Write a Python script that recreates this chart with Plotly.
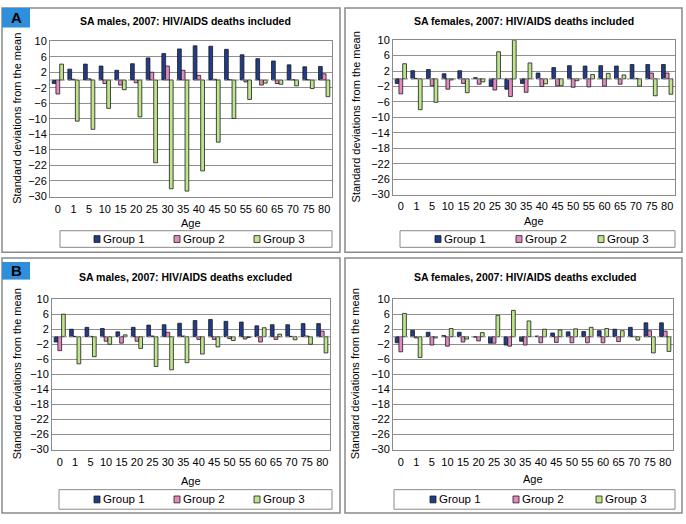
import plotly.graph_objects as go

ages = ["0", "1", "5", "10", "15", "20", "25", "30", "35", "40", "45", "50", "55", "60", "65", "70", "75", "80"]
group_names = ["Group 1", "Group 2", "Group 3"]

# Panel A: HIV/AIDS deaths included
males_incl_g1 = [-0.9, 2.8, 4.1, 3.6, 2.5, 4.2, 5.7, 6.8, 8.0, 8.8, 8.7, 7.9, 6.5, 5.5, 4.9, 3.9, 3.4, 3.5]
males_incl_g2 = [-3.6, 0.2, 0.3, -0.9, -1.3, -0.7, 2.0, 3.6, 2.5, 1.2, 0.2, 0.1, -0.5, -1.3, -0.9, 0.1, 0.1, 1.6]
males_incl_g3 = [4.1, -10.6, -12.7, -7.3, -2.5, -9.5, -21.3, -28.0, -28.6, -23.4, -16.0, -9.9, -5.0, -0.8, -1.1, -1.5, -2.2, -4.3]

females_incl_g1 = [-1.2, 2.1, 2.4, 1.3, 2.1, 0.3, -1.9, -2.7, -1.2, 1.5, 2.9, 3.4, 3.3, 3.4, 3.3, 3.7, 3.7, 3.7]
females_incl_g2 = [-3.9, 0.1, -1.8, -2.7, -1.2, -1.4, -2.9, -4.6, -3.5, -2.0, -1.8, -2.2, -2.1, -1.9, -1.4, 0.1, 1.5, 1.5]
females_incl_g3 = [3.9, -8.0, -6.1, -0.3, -3.6, -0.8, 7.0, 10.0, 4.1, -1.3, -1.8, -0.5, 1.1, 1.4, 1.0, -1.9, -4.4, -4.0]

# Panel B: HIV/AIDS deaths excluded
males_excl_g1 = [-1.4, 2.0, 2.5, 2.2, 1.3, 2.5, 3.1, 3.2, 3.6, 4.3, 4.6, 4.1, 3.9, 2.9, 3.2, 3.2, 3.5, 3.5]
males_excl_g2 = [-3.7, 0.1, 0.1, -1.2, -1.7, -1.2, 0.2, 1.2, 0.2, -0.7, -0.7, -0.5, -0.6, -1.4, -0.7, 0.1, 0.2, 1.5]
males_excl_g3 = [6.0, -7.2, -5.3, -2.0, 0.5, -3.1, -7.9, -8.8, -6.9, -4.6, -2.7, -1.0, -0.2, 2.4, 0.7, -0.8, -2.0, -4.3]

females_excl_g1 = [-1.6, 1.7, 1.2, 0.3, 1.2, -0.1, -1.7, -2.2, -1.2, 0.2, 1.0, 1.3, 1.4, 1.6, 2.0, 2.5, 3.7, 3.7]
females_excl_g2 = [-4.0, -0.3, -2.2, -2.5, -1.4, -1.1, -1.7, -2.5, -2.2, -1.6, -1.5, -1.6, -1.6, -1.6, -1.3, 0.1, 1.6, 1.5]
females_excl_g3 = [6.2, -5.5, -0.3, 2.2, -0.6, 1.1, 5.7, 7.0, 4.2, 2.0, 1.8, 2.1, 2.5, 2.2, 1.6, -0.9, -4.3, -3.9]

titles = [
    "SA males, 2007: HIV/AIDS deaths included",
    "SA females, 2007: HIV/AIDS deaths included",
    "SA males, 2007: HIV/AIDS deaths excluded",
    "SA females, 2007: HIV/AIDS deaths excluded",
]
panel_data = [
    (males_incl_g1, males_incl_g2, males_incl_g3),
    (females_incl_g1, females_incl_g2, females_incl_g3),
    (males_excl_g1, males_excl_g2, males_excl_g3),
    (females_excl_g1, females_excl_g2, females_excl_g3),
]

W, H = 686, 524
FONT = "Liberation Sans, Arial, sans-serif"
colors = ["#203C8A", "#E58AC0", "#BDE58C"]

panels = [
    dict(px=(50, 332), py=(36, 195), frame=(2, 340, 2, 252), title=(185, 15), age_y=222, ticklen=2,
         leg_box=(60, 332, 230, 247), leg_marks=(94, 174, 254), ytitle_x=17),
    dict(px=(393, 675), py=(35, 193), frame=(345, 682, 2, 252), title=(524, 15), age_y=220, ticklen=1,
         leg_box=(400, 675, 230, 247), leg_marks=(435, 516, 598), ytitle_x=356),
    dict(px=(52, 330), py=(300, 454), frame=(2, 340, 258, 519), title=(185, 277), age_y=486, ticklen=2,
         leg_box=(59, 332, 495, 515), leg_marks=(94, 174, 254), ytitle_x=17),
    dict(px=(393, 673), py=(300, 454), frame=(345, 682, 258, 519), title=(525, 277), age_y=484, ticklen=2,
         leg_box=(394, 675, 495, 515), leg_marks=(430, 513, 596), ytitle_x=355),
]

def fx(p):
    return p / W

def fy(p):
    return 1 - p / H

fig = go.Figure()
layout = dict(
    width=W, height=H, margin=dict(l=0, r=0, t=0, b=0),
    paper_bgcolor="white", plot_bgcolor="white",
    barmode="group", bargap=0.28, bargroupgap=0.0,
    font=dict(family=FONT, size=11, color="black"),
    showlegend=False,
)
shapes = []
annotations = []

for i, (pan, data, title) in enumerate(zip(panels, panel_data, titles)):
    k = i + 1
    xa = "x" if k == 1 else f"x{k}"
    ya = "y" if k == 1 else f"y{k}"
    for g, (vals, name, col) in enumerate(zip(data, group_names, colors)):
        fig.add_trace(go.Bar(
            x=ages, y=vals, name=name, xaxis=xa, yaxis=ya,
            marker=dict(color=col, line=dict(color="#1a1a1a", width=0.8)),
        ))
    x0, x1 = pan["px"]
    y0, y1 = pan["py"]
    layout[f"xaxis{'' if k == 1 else k}"] = dict(
        domain=[fx(x0), fx(x1)], anchor=ya, type="category",
        tickmode="array", tickvals=ages, ticktext=ages, tickangle=0,
        showgrid=False, showline=True, mirror=True, linecolor="#8a8a8a", linewidth=1,
        ticks="outside", ticklen=pan["ticklen"], tickcolor="rgba(0,0,0,0)",
        tickfont=dict(size=11), zeroline=False, fixedrange=True,
    )
    layout[f"yaxis{'' if k == 1 else k}"] = dict(
        domain=[fy(y1), fy(y0)], anchor=xa, range=[-30, 10],
        tickmode="linear", tick0=-30, dtick=4,
        showgrid=True, gridcolor="#8f8f8f", gridwidth=1,
        showline=True, mirror=True, linecolor="#8a8a8a", linewidth=1,
        zeroline=False, tickfont=dict(size=11), ticks="", fixedrange=True,
    )
    # dotted zero axis
    shapes.append(dict(type="line", xref=f"{xa} domain", yref=ya, x0=0, x1=1, y0=0, y1=0,
                       line=dict(color="#9a9a9a", width=1.2, dash="dot"), layer="above"))
    # panel frame
    fx0, fx1, fy0, fy1 = pan["frame"]
    shapes.append(dict(type="rect", xref="paper", yref="paper",
                       x0=fx(fx0), x1=fx(fx1), y0=fy(fy1), y1=fy(fy0),
                       line=dict(color="#8a8a8a", width=1.5), fillcolor="rgba(0,0,0,0)"))
    tx, ty = pan["title"]
    annotations.append(dict(text=f"<b>{title}</b>", xref="paper", yref="paper",
                            x=fx(tx), y=fy(ty), xanchor="center", yanchor="middle",
                            showarrow=False, font=dict(size=10.5)))
    annotations.append(dict(text="Age", xref="paper", yref="paper",
                            x=fx((x0 + x1) / 2), y=fy(pan["age_y"]), xanchor="center", yanchor="middle",
                            showarrow=False, font=dict(size=11)))
    annotations.append(dict(text="Standard deviations from the mean", xref="paper", yref="paper",
                            x=fx(pan["ytitle_x"]), y=fy((y0 + y1) / 2), xanchor="center", yanchor="middle",
                            textangle=-90, showarrow=False, font=dict(size=11)))
    # legend box
    lbx0, lbx1, lby0, lby1 = pan["leg_box"]
    shapes.append(dict(type="rect", xref="paper", yref="paper",
                       x0=fx(lbx0), x1=fx(lbx1), y0=fy(lby1), y1=fy(lby0),
                       line=dict(color="#8a8a8a", width=1), fillcolor="white"))
    cy = (lby0 + lby1) / 2
    for mx, name, col in zip(pan["leg_marks"], group_names, colors):
        shapes.append(dict(type="rect", xref="paper", yref="paper",
                           x0=fx(mx), x1=fx(mx + 6), y0=fy(cy + 3.5), y1=fy(cy - 3.5),
                           line=dict(color="#1a1a1a", width=0.8), fillcolor=col))
        annotations.append(dict(text=name, xref="paper", yref="paper",
                                x=fx(mx + 6.5), y=fy(cy), xanchor="left", yanchor="middle",
                                showarrow=False, font=dict(size=11.5)))

for letter, (lx0, lx1, ly0, ly1) in [("A", (2, 30, 2, 22)), ("B", (2, 30, 262, 280))]:
    shapes.append(dict(type="rect", xref="paper", yref="paper",
                       x0=fx(lx0), x1=fx(lx1), y0=fy(ly1), y1=fy(ly0),
                       line=dict(width=0), fillcolor="#2F8FDC"))
    annotations.append(dict(text=f"<b>{letter}</b>", xref="paper", yref="paper",
                            x=fx((lx0 + lx1) / 2), y=fy((ly0 + ly1) / 2), xanchor="center", yanchor="middle",
                            showarrow=False, font=dict(size=15, color="black")))

layout["shapes"] = shapes
layout["annotations"] = annotations
fig.update_layout(**layout)
fig.write_html("out.html", config={"displayModeBar": False},
               post_script="document.body.style.margin='0';document.body.style.overflow='hidden';")
